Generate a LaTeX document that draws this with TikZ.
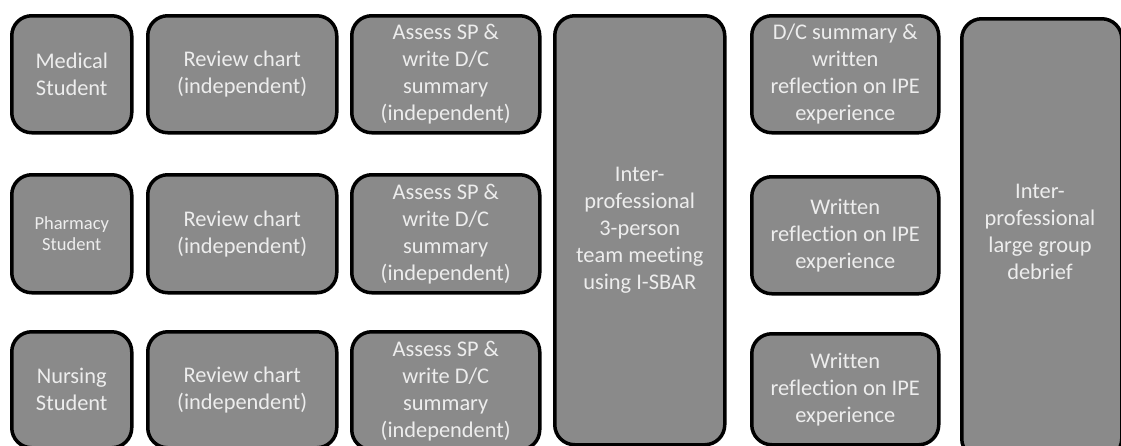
\documentclass[tikz,border=0pt]{standalone}
\usepackage{fontspec}
\setmainfont{Carlito}[Ligatures={NoCommon}]
\definecolor{boxfill}{HTML}{8A8A8A}
\definecolor{boxtext}{HTML}{EDEDED}
\tikzset{
  box/.style={draw=black, line width=3.5pt, fill=boxfill, rounded corners=20pt,
    text=boxtext, align=center, inner sep=0pt,
    font=\fontsize{22.4}{27}\selectfont},
  smalltext/.style={font=\fontsize{18.5}{21}\selectfont}
}
\begin{document}
\begin{tikzpicture}[x=1pt,y=-1pt]
\useasboundingbox (0,0) rectangle (1121,445);
% column 1
\node[box, minimum width=120pt, minimum height=117pt, anchor=north west] (med) at (10,14) {Medical\\Student};
\node[box, smalltext, minimum width=120pt, minimum height=118pt, anchor=north west] (pha) at (10,173) {Pharmacy\\Student};
\node[box, minimum width=120pt, minimum height=116pt, anchor=north west] (nur) at (10,330) {Nursing\\Student};
% column 2
\node[box, minimum width=189pt, minimum height=117pt, anchor=north west] (rc1) at (146,14) {Review chart\\(independent)};
\node[box, minimum width=189pt, minimum height=118pt, anchor=north west] (rc2) at (146,173) {Review chart\\(independent)};
\node[box, minimum width=189pt, minimum height=116pt, anchor=north west] (rc3) at (146,330) {Review chart\\(independent)};
% column 3
\node[box, minimum width=188pt, minimum height=117pt, anchor=north west] (as1) at (350,14) {Assess SP \&\\write D/C\\summary\\(independent)};
\node[box, minimum width=188pt, minimum height=118pt, anchor=north west] (as2) at (350,173) {Assess SP \&\\write D/C\\summary\\(independent)};
\node[box, minimum width=188pt, minimum height=118pt, anchor=north west] (as3) at (350,330) {Assess SP \&\\write D/C\\summary\\(independent)};
% column 4
\node[box, minimum width=170pt, minimum height=429pt, anchor=north west] (team) at (553,14) {Inter-\\professional\\3-person\\team meeting\\using I-SBAR};
% column 5
\node[box, minimum width=187pt, minimum height=117pt, anchor=north west] (wr1) at (750,14) {D/C summary \&\\written\\reflection on IPE\\experience};
\node[box, minimum width=187pt, minimum height=117pt, anchor=north west] (wr2) at (750,175) {Written\\reflection on IPE\\experience};
\node[box, minimum width=187pt, minimum height=111pt, anchor=north west] (wr3) at (750,332) {Written\\reflection on IPE\\experience};
% column 6
\node[box, minimum width=160pt, minimum height=440pt, anchor=north west] (deb) at (960,17) {};
\node[text=boxtext, align=center, font=\fontsize{22.4}{27}\selectfont] (debt) at (1040,232) {Inter-\\professional\\large group\\debrief};
\end{tikzpicture}
\end{document}
